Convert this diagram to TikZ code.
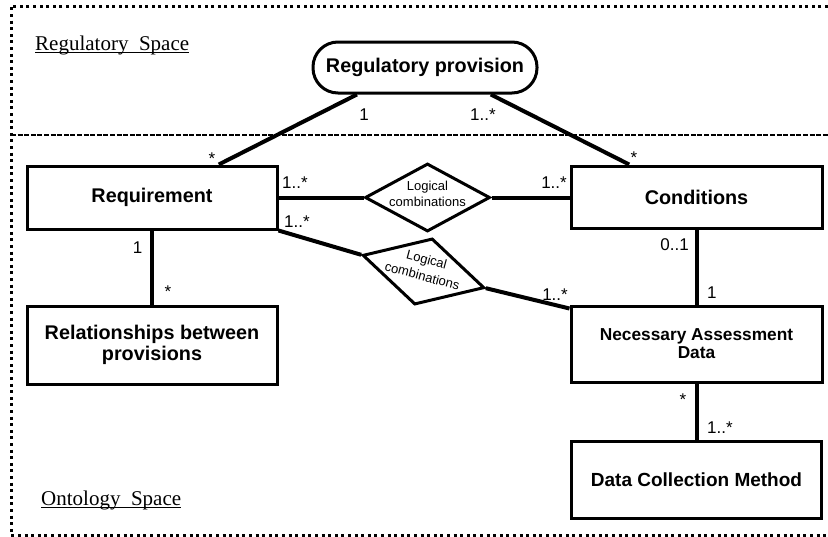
\documentclass[tikz,border=0pt]{standalone}
\usepackage{fontspec}
\setmainfont{Liberation Serif}
\setsansfont{Liberation Sans}
\usetikzlibrary{shapes.geometric,calc}
\begin{document}
\begin{tikzpicture}[x=1pt,y=-1pt,
 box/.style={draw,line width=3pt,inner sep=0pt,font=\sffamily\bfseries\fontsize{19.8}{20.5}\selectfont,align=center},
 conn/.style={line width=4pt},
 mult/.style={font=\sffamily\fontsize{17}{17}\selectfont,inner sep=0pt},
 dia/.style={draw,diamond,line width=3pt,inner sep=0pt,minimum width=125pt,minimum height=68pt},
 diatext/.style={font=\sffamily\fontsize{13}{16}\selectfont,align=center,inner sep=0pt},
 spacelbl/.style={font=\fontsize{21}{22}\selectfont,inner sep=0pt,anchor=base west},
 uline/.style={line width=1pt}
]
\useasboundingbox (0,0) rectangle (828,536);

% space borders
\draw[line width=3pt,dash pattern=on 3pt off 3.6pt] (828,6) -- (11,6) -- (11,535) -- (828,535);
\draw[line width=2.6pt,dash pattern=on 5pt off 1.6pt] (11,135) -- (828,135);

% space labels
\node[spacelbl] (rs) at (35,50) {Regulatory\ \ Space};
\draw[uline] ($(rs.base west)+(0,2)$) -- ($(rs.base east)+(0,2)$);
\node[spacelbl] (os) at (41,505) {Ontology\ \ Space};
\draw[uline] ($(os.base west)+(0,2.5)$) -- ($(os.base east)+(0,2.5)$);

% nodes
\node[box,rounded corners=25pt,minimum width=224pt,minimum height=51pt] (reg) at (425,67.5) {Regulatory provision};
\node[box,minimum width=250pt,minimum height=63pt] (req) at (152,197.5) {Requirement};
\node[box,minimum width=251pt,minimum height=62pt] (cond) at (696.5,197) {Conditions};
\node[box,minimum width=250pt,minimum height=78pt] (rel) at (152,345) {Relationships between\\provisions};
\node[box,minimum width=251pt,minimum height=76pt,font=\sffamily\bfseries\fontsize{17.3}{18}\selectfont] (nad) at (696.5,344) {Necessary Assessment\\Data};
\node[box,minimum width=250pt,minimum height=77pt,font=\sffamily\bfseries\fontsize{19}{20}\selectfont] (dcm) at (696.5,479.5) {Data Collection Method};

\node[dia] (d1) at (427.5,197.5) {};
\node[diatext,yshift=4pt] (t1) at (d1) {Logical\\combinations};
\node[dia,minimum width=126pt,minimum height=68.4pt,rotate=-15] (d2) at (423.5,271.5) {};
\node[diatext,font=\sffamily\fontsize{13}{17}\selectfont,rotate=-15,yshift=4pt] (t2) at (d2) {Logical\\combinations};

% connectors
\draw[conn] ($(reg.south west)!0.2!(reg.south east)$) -- ($(req.north west)!0.764!(req.north east)$);
\draw[conn] ($(reg.south west)!0.79!(reg.south east)$) -- ($(cond.north west)!0.235!(cond.north east)$);
\draw[conn] (req.east |- d1.west) -- (d1.west);
\draw[conn] (d1.east) -- (cond.west |- d1.east);
\draw[conn] (req.south east) -- (d2.west);
\draw[conn] (d2.east) -- ($(nad.north west)+(0,4)$);
\draw[conn] (req.south) -- (rel.north);
\draw[conn] (cond.south) -- (nad.north);
\draw[conn] (nad.south) -- (dcm.north);

% multiplicities
\node[mult,anchor=base] (m1) at (364,120) {1};
\node[mult,anchor=base west] (m2) at (470,120) {1..*};
\node[mult,anchor=base] (m3) at (212,164) {*};
\node[mult,anchor=base] (m4) at (634,163) {*};
\node[mult,anchor=base west] (m5) at (282,188) {1..*};
\node[mult,anchor=base east] (m6) at (567,188) {1..*};
\node[mult,anchor=base west] (m7) at (284,227) {1..*};
\node[mult,anchor=base east] (m8) at (568,300) {1..*};
\node[mult,anchor=base] (m9) at (137.5,253) {1};
\node[mult,anchor=base] (m10) at (168,297) {*};
\node[mult,anchor=base east] (m11) at (689,250) {0..1};
\node[mult,anchor=base west] (m12) at (707,298) {1};
\node[mult,anchor=base] (m13) at (683,405) {*};
\node[mult,anchor=base west] (m14) at (707,433) {1..*};
\end{tikzpicture}
\end{document}
